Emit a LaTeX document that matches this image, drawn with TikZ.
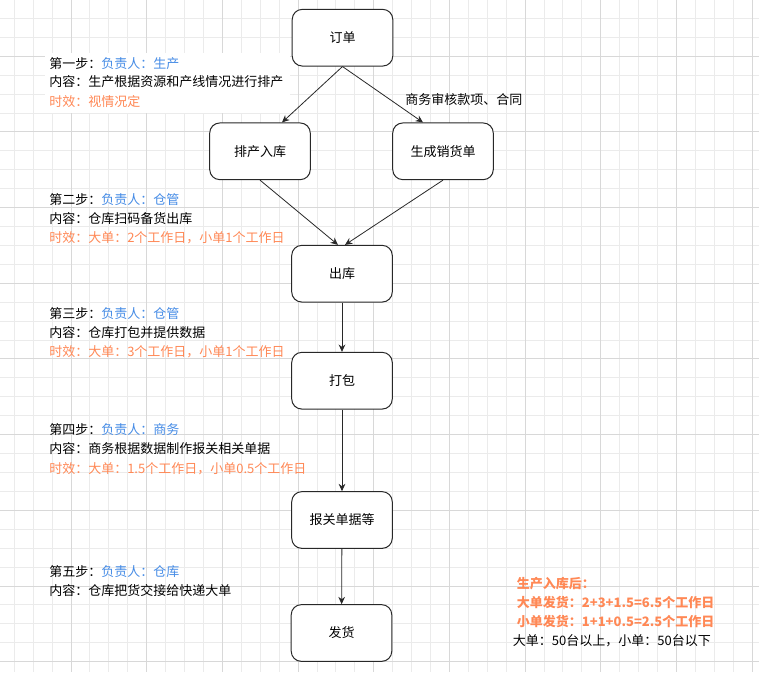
\documentclass[tikz,border=0pt]{standalone}
\usepackage{fontspec}
\setmainfont{Noto Sans CJK SC}
\usetikzlibrary{arrows.meta}
\definecolor{fzblue}{RGB}{70,140,230}
\definecolor{fzorange}{RGB}{255,136,85}
\definecolor{gridminor}{RGB}{235,235,235}
\definecolor{gridmajor}{RGB}{216,216,216}
\definecolor{fzline}{RGB}{40,40,40}
\begin{document}
\begin{tikzpicture}[x=0.75pt,y=-0.75pt,
  font=\fontsize{9.75pt}{11pt}\selectfont,
  box/.style={draw=fzline, line width=0.75pt, rounded corners=7.5pt,
    minimum width=75.4pt, minimum height=42.5pt, inner sep=0pt, fill=white},
  txt/.style={anchor=west, inner sep=0pt},
  sumtxt/.style={txt, text=fzorange, font=\fontsize{9.75pt}{11pt}\selectfont\bfseries},
  arr/.style={-{Stealth[length=5.5pt,width=5pt]}, line width=0.6pt, draw=fzline}]
\useasboundingbox (0,0) rectangle (759,672);
\fill[white] (0,0) rectangle (759,672);
% grid
\foreach \i in {0,...,39} \draw[gridminor, line width=0.75pt] ({14.3+18.92*\i},0) -- ({14.3+18.92*\i},672);
\foreach \j in {1,...,35} \draw[gridminor, line width=0.75pt] (0,{-0.5+18.92*\j}) -- (759,{-0.5+18.92*\j});
\foreach \m in {0,...,9} \draw[gridmajor, line width=0.75pt] ({71.06+75.68*\m},0) -- ({71.06+75.68*\m},672);
\foreach \n in {-3,...,5} \draw[gridmajor, line width=0.75pt] (0,{283.3+75.68*\n}) -- (759,{283.3+75.68*\n});

% boxes
\node[box] (order) at (342.5,37.7) {订单};
\node[box] (prod) at (260,151.3) {排产入库};
\node[box] (sales) at (443,151.3) {生成销货单};
\node[box] (out) at (342,273.7) {出库};
\node[box] (pack) at (342,380.7) {打包};
\node[box] (customs) at (342,520) {报关单据等};
\node[box] (ship) at (341.5,633) {发货};

% connectors
\draw[arr] (order.south) -- ([xshift=16.5pt]prod.north);
\draw[arr] (order.south) -- ([xshift=-15pt]sales.north);
\draw[arr] (prod.south) -- ([xshift=-3pt]out.north);
\draw[arr] (sales.south) -- ([xshift=2.25pt]out.north);
\draw[arr] (out) -- (pack);
\draw[arr] (pack) -- (customs);
\draw[arr] (customs) -- (ship);

\node[txt] (lbl) at (405,99.3) {商务审核款项、合同};

% step 1
\fill[white] (45,53.3) rectangle (290,113.3);
\node[txt] (s1a) at (49,63.3) {第一步：\textcolor{fzblue}{负责人：生产}};
\node[txt] (s1b) at (49,82) {内容：生产根据资源和产线情况进行排产};
\node[txt,text=fzorange] (s1c) at (49,101.5) {时效：视情况定};
% step 2
\node[txt] (s2a) at (49,199.3) {第二步：\textcolor{fzblue}{负责人：仓管}};
\node[txt] (s2b) at (49,218.3) {内容：仓库扫码备货出库};
\node[txt,text=fzorange] (s2c) at (49,237.3) {时效：大单：2个工作日，小单1个工作日};
% step 3
\node[txt] (s3a) at (49,313.3) {第三步：\textcolor{fzblue}{负责人：仓管}};
\node[txt] (s3b) at (49,332.3) {内容：仓库打包并提供数据};
\node[txt,text=fzorange] (s3c) at (49,351.3) {时效：大单：3个工作日，小单1个工作日};
% step 4
\node[txt] (s4a) at (49,430) {第四步：\textcolor{fzblue}{负责人：商务}};
\node[txt] (s4b) at (49,449) {内容：商务根据数据制作报关相关单据};
\node[txt,text=fzorange] (s4c) at (49,468.3) {时效：大单：1.5个工作日，小单0.5个工作日};
% step 5
\node[txt] (s5a) at (49,571.7) {第五步：\textcolor{fzblue}{负责人：仓库}};
\node[txt] (s5b) at (49,590.7) {内容：仓库把货交接给快递大单};

% summary
\node[sumtxt] (sum1) at (516.7,583.3) {生产入库后：};
\node[sumtxt] (sum2) at (516.7,602.3) {大单发货：2+3+1.5=6.5个工作日};
\node[sumtxt] (sum3) at (516.7,621) {小单发货：1+1+0.5=2.5个工作日};
\node[txt] (sum4) at (512.7,641) {大单：50台以上，小单：50台以下};
\end{tikzpicture}
\end{document}
